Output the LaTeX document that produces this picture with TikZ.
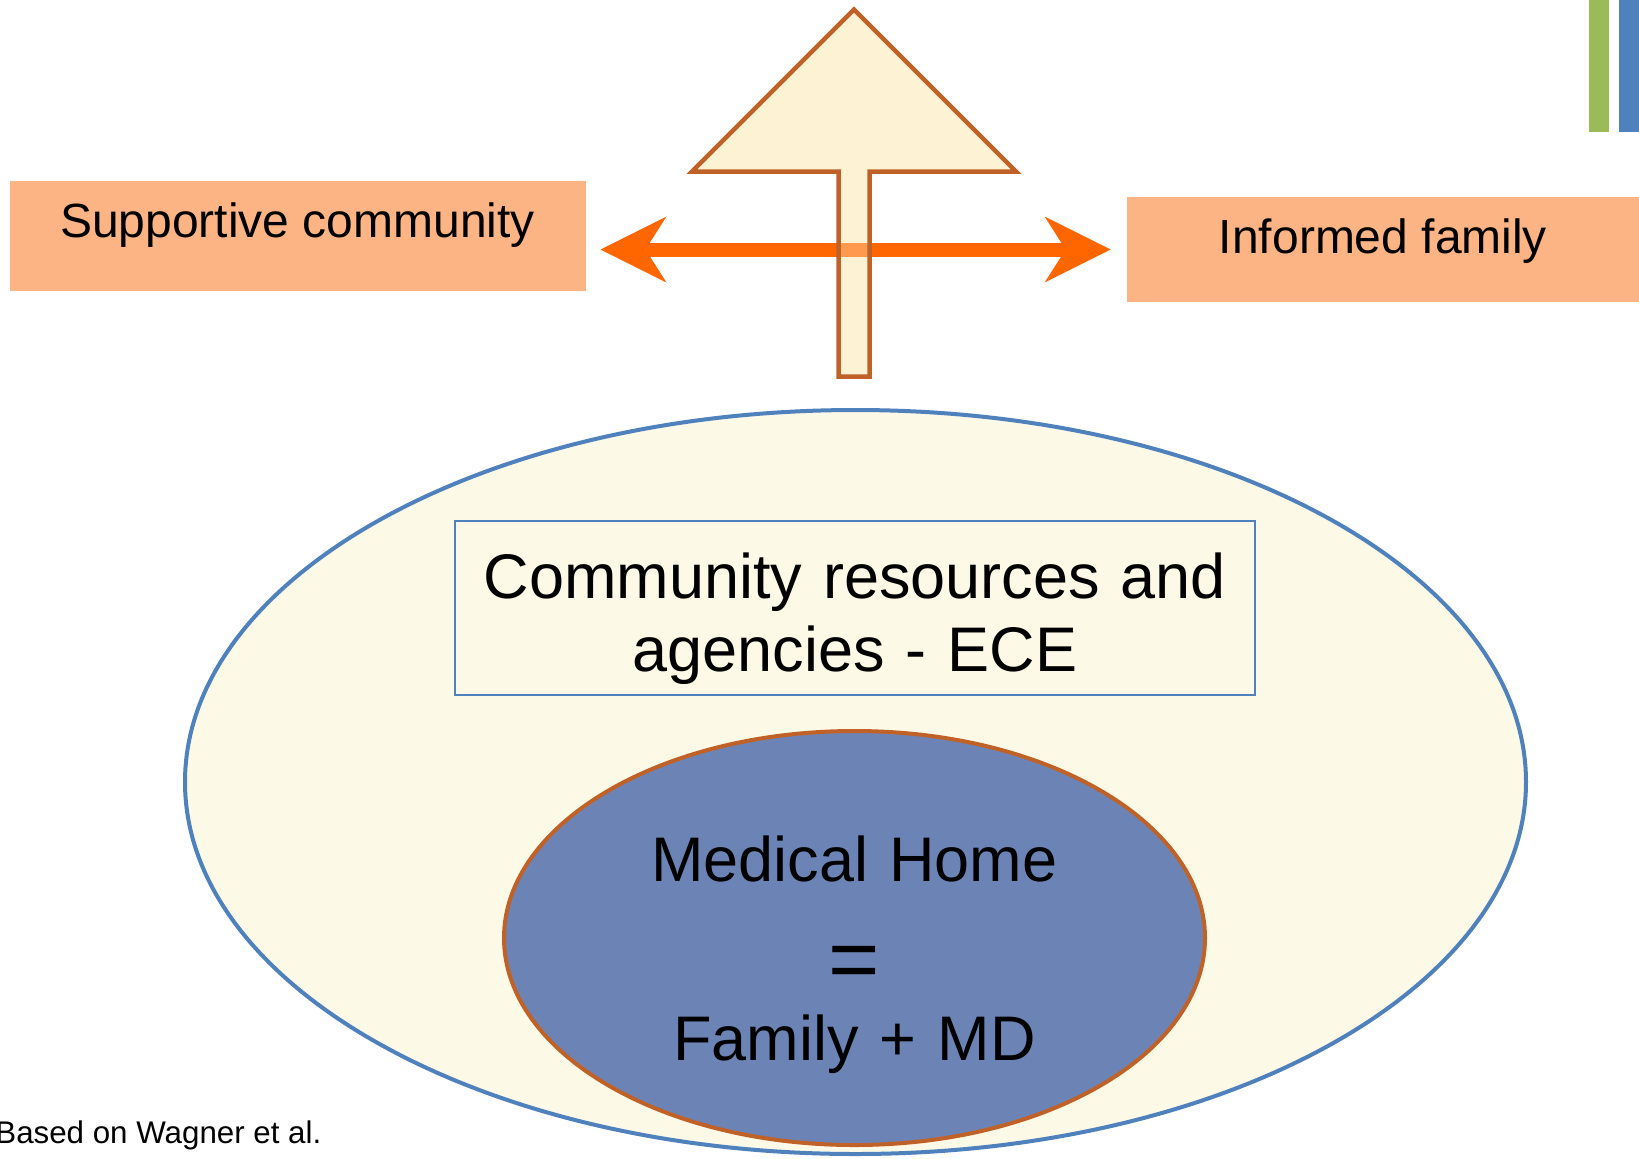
\documentclass[tikz,border=0pt]{standalone}
\usepackage{fontspec}
\setmainfont{Liberation Sans}
\usetikzlibrary{arrows.meta,shapes.geometric}
\definecolor{boxpeach}{RGB}{252,180,132}
\definecolor{arrorange}{RGB}{255,102,0}
\definecolor{creamA}{RGB}{253,243,212}
\definecolor{creamB}{RGB}{253,249,231}
\definecolor{blueA}{RGB}{79,129,189}
\definecolor{greenA}{RGB}{155,187,89}
\definecolor{brownA}{RGB}{192,98,40}
\definecolor{mhblue}{RGB}{108,132,181}
\begin{document}
\begin{tikzpicture}[x=0.5pt,y=-0.5pt,
  peachbox/.style={rectangle, fill=boxpeach, inner sep=0pt, anchor=base, font=\fontsize{24}{28}\selectfont},
  dblarrow/.style={draw=arrorange, line width=7pt,
    {Stealth[length=33pt,width=33pt,inset=10.5pt,line width=0pt]}-{Stealth[length=33pt,width=33pt,inset=10.5pt,line width=0pt]}},
  bigarrowfill/.style={fill=creamA},
  bigarrowline/.style={fill=creamA, fill opacity=0.37, draw=brownA, line width=2.25pt, line join=miter},
  outerell/.style={ellipse, draw=blueA, line width=2pt, fill=creamB, inner sep=0pt},
  resbox/.style={draw=blueA, line width=1pt, fill=creamB, inner sep=0pt, align=center},
  innerell/.style={ellipse, draw=brownA, line width=2pt, fill=mhblue, inner sep=0pt, align=center}
]
\useasboundingbox (0,0) rectangle (1639,1158);
\fill[white] (0,0) rectangle (1639,1158);

% top-right bars
\fill[greenA] (1589,0) rectangle (1609,132);
\fill[blueA] (1619,0) rectangle (1639,132);

% outer ellipse
\node[outerell, minimum width=670.5pt, minimum height=372pt] (outer) at (855.5,782) {};

% community resources box
\node[resbox, anchor=base, text width=400pt, text height=38.5pt, text depth=48.5pt,
  font=\fontsize{31.5}{36.5}\selectfont] (cra) at (855,598) {Community resources and\\agencies - ECE};

% medical home ellipse
\node[innerell, minimum width=350.5pt, minimum height=207pt, text width=220pt,
  text height=20pt, text depth=77pt, font=\fontsize{31.5}{44.75}\selectfont] (mh) at (854.5,938)
  {Medical Home\\[9.5pt]{\fontsize{44}{44.75}\selectfont =}\\[-9.5pt]Family + MD};

% peach boxes
\node[peachbox, minimum width=288pt, text height=28.25pt, text depth=27pt] (sc) at (297.5,237) {Supportive community};
\node[peachbox, minimum width=256pt, text height=28pt, text depth=24.5pt] (inf) at (1383,253) {Informed family};

% big up arrow (fill)
\fill[bigarrowfill] (854,9.5) -- (1016,171.5) -- (869.5,171.5) -- (869.5,376.5) -- (838.5,376.5) -- (838.5,171.5) -- (692,171.5) -- cycle;

% double arrow
\draw[dblarrow] ([xshift=7.3pt]sc.east |- inf.west) -- ([xshift=-8pt]inf.west);

% big up arrow (overlay and outline)
\filldraw[bigarrowline] (854,9.5) -- (1016,171.5) -- (869.5,171.5) -- (869.5,376.5) -- (838.5,376.5) -- (838.5,171.5) -- (692,171.5) -- cycle;

% source
\node[anchor=base west, inner sep=0pt, font=\fontsize{15.65}{18}\selectfont] (src) at (-5,1143) {Based on Wagner et al.};
\end{tikzpicture}
\end{document}
